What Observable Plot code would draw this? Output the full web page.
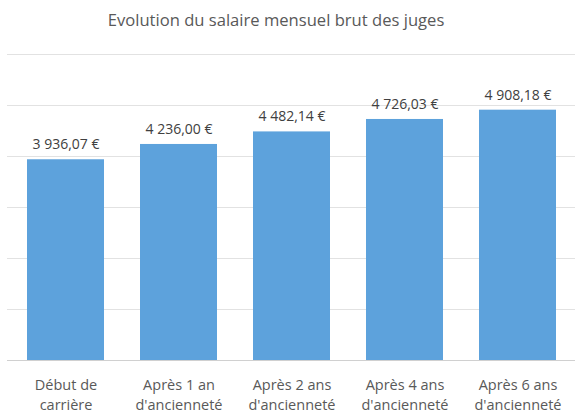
<!DOCTYPE html>
<html>
<head>
<meta charset="utf-8">
<script src="https://cdn.jsdelivr.net/npm/d3@7"></script>
<script src="https://cdn.jsdelivr.net/npm/@observablehq/plot@0.6"></script>
<style>
  body { margin: 0; background: #fff; }
  #wrap { position: relative; width: 586px; height: 416px; }
  #titre {
    position: absolute; top: 8px; left: 0; width: 552px;
    text-align: center; font-family: "Open Sans", sans-serif;
    font-size: 16.6px; color: #595959;
  }
</style>
</head>
<body>
<div id="wrap">
  <div id="titre">Evolution du salaire mensuel brut des juges</div>
  <div id="chart"></div>
</div>
<script>
const categories = [
  "Début de\ncarrière",
  "Après 1 an\nd'ancienneté",
  "Après 2 ans\nd'ancienneté",
  "Après 4 ans\nd'ancienneté",
  "Après 6 ans\nd'ancienneté"
]
const salaires = [3936.07, 4236.00, 4482.14, 4726.03, 4908.18]

const data = categories.map((c, i) => ({categorie: c, salaire: salaires[i]}))

// format français : espace pour les milliers, virgule décimale
const fr = d3.formatLocale({decimal: ",", thousands: " ", grouping: [3], currency: ["", " €"]})
const euro = fr.format("$,.2f")

const chart = Plot.plot({
  width: 586,
  height: 416,
  marginTop: 54,
  marginBottom: 56,
  marginLeft: 7,
  marginRight: 11,
  style: {fontFamily: "Open Sans, sans-serif", fontSize: "14px", color: "#595959"},
  x: {domain: categories, paddingInner: 0.32, paddingOuter: 0.16, label: null},
  y: {domain: [0, 6000], label: null, axis: null},
  marks: [
    Plot.gridY(d3.range(1000, 6001, 1000), {stroke: "#e2e2e2", strokeOpacity: 1}),
    Plot.barY(data, {x: "categorie", y: "salaire", fill: "#5da2dc"}),
    Plot.ruleY([0], {stroke: "#d0d0d0"}),
    Plot.text(data, {
      x: "categorie", y: "salaire", text: d => euro(d.salaire),
      dy: -15, fill: "#404040", fontSize: 14
    }),
    Plot.axisX({tickSize: 0, tickPadding: 15, fontSize: 14.5, lineHeight: 1.4, fill: "#595959"})
  ]
})

d3.select('#chart').append(() => chart)
</script>
</body>
</html>
